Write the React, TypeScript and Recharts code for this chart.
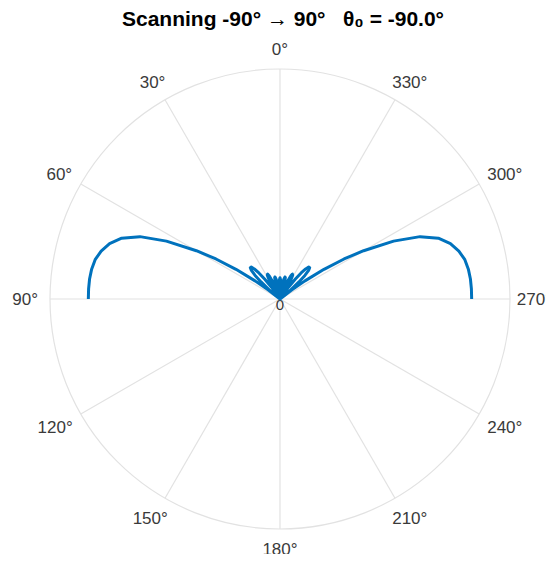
import React from 'react';
import {
  RadarChart, PolarGrid, PolarAngleAxis, PolarRadiusAxis, Radar,
  LineChart, Line, XAxis, YAxis,
} from 'recharts';

// theta ticks listed clockwise from the top (recharts default sweep),
// which puts 30° on the upper left like the original
const angleLabels = ['0°', '330°', '300°', '270°', '240°', '210°', '180°', '150°', '120°', '90°', '60°', '30°'];

// scan angle (deg), -90 (right) .. 90 (left)
const thetaDeg = [
  -90, -87, -84, -81, -78, -75, -72, -69, -66, -63, -60, -58, -56, -54, -52.5, -51.06,
  -49.5, -48, -46.5, -45, -43.5, -42, -40.5, -39, -37.5, -36, -34.8, -33.75,
  -32, -30, -28, -26.5, -25, -23, -21, -19.47,
  -18, -16, -14, -12.8, -11, -9, -7.5, -6.38,
  -5, -3.5, -2, 0, 2, 3.5, 5,
  6.38, 7.5, 9, 11, 12.8, 14, 16, 18,
  19.47, 21, 23, 25, 26.5, 28, 30, 32,
  33.75, 34.8, 36, 37.5, 39, 40.5, 42, 43.5, 45, 46.5, 48, 49.5,
  51.06, 52.5, 54, 56, 58, 60, 63, 66, 69, 72, 75, 78, 81, 84, 87, 90,
];

// normalised array gain
const gain = [
  1.0, 1.0, 0.999, 0.995, 0.986, 0.966, 0.935, 0.885, 0.8, 0.665, 0.504, 0.394, 0.277, 0.161, 0.076, 0,
  0.074, 0.133, 0.179, 0.211, 0.225, 0.224, 0.206, 0.175, 0.132, 0.081, 0.038, 0,
  0.059, 0.111, 0.141, 0.145, 0.134, 0.099, 0.045, 0,
  0.042, 0.089, 0.115, 0.118, 0.105, 0.069, 0.031, 0,
  0.037, 0.073, 0.098, 0.111, 0.098, 0.073, 0.037,
  0, 0.031, 0.069, 0.105, 0.118, 0.115, 0.089, 0.042,
  0, 0.045, 0.099, 0.134, 0.145, 0.141, 0.111, 0.059,
  0, 0.038, 0.081, 0.132, 0.175, 0.206, 0.224, 0.225, 0.211, 0.179, 0.133, 0.074,
  0, 0.076, 0.161, 0.277, 0.394, 0.504, 0.665, 0.8, 0.885, 0.935, 0.966, 0.986, 0.995, 0.999, 1.0, 1.0,
];

const R_LIM = 1.2;

const CX = 272;
const CY = 291;
const OUTER_R = 230;
const LABEL_GAP = 12;
const CHART_W = 546;
const CHART_H = 554;
const GRID = '#e2e2e2';
const TXT = '#3a3a3a';
const FONT = '"Liberation Sans", Arial, Helvetica, sans-serif';

const gridData = angleLabels.map((label) => ({ label, v: 0 }));

const curve = thetaDeg.map((t, i) => {
  const a = (t * Math.PI) / 180;
  return { x: -gain[i] * Math.sin(a), y: gain[i] * Math.cos(a) };
});

// push each label box out so its edge, not its centre, sits at the gap
const AngleTick = (props: any) => {
  const { x, y, payload } = props;
  const fs = 17;
  const s = String(payload.value);
  const w = (s.length - 1) * 0.556 * fs + 0.4 * fs;
  const h = 16;
  const dx = x - CX;
  const dy = y - CY;
  const len = Math.sqrt(dx * dx + dy * dy) || 1;
  const ux = dx / len;
  const uy = dy / len;
  let tx = x + (ux * w) / 2;
  tx = Math.min(tx, CHART_W - 2 - w / 2);
  const ty = y + (uy * h) / 2 + (uy > 0.2 && uy < 0.95 ? 3 : 0);
  return (
    <text x={tx} y={ty} textAnchor="middle" dominantBaseline="central"
      fontSize={fs} fill={TXT} fontFamily={FONT}>
      {s}
    </text>
  );
};

const RadiusTick = (props: any) => {
  const { x, y, payload } = props;
  if (payload.value !== 0) return <g />;
  return (
    <text x={x} y={y + 5} textAnchor="middle" dominantBaseline="central"
      fontSize={15} fill={TXT} fontFamily={FONT}>
      0
    </text>
  );
};

export default function App() {
  return (
    <div style={{ position: 'relative', width: 538, height: CHART_H, marginBottom: -8, background: '#fff' }}>
      <div style={{
        position: 'absolute', left: 6, top: 0, width: 538, textAlign: 'center',
        fontFamily: FONT, fontWeight: 'bold', fontSize: 21, lineHeight: '21px', color: '#000',
        whiteSpace: 'pre',
      }}>
        {'Scanning -90° → 90°   θ₀ = -90.0°'}
      </div>

      <div style={{ position: 'absolute', left: 0, top: 0 }}>
        <RadarChart width={CHART_W} height={CHART_H} data={gridData} cx={CX} cy={CY}
          outerRadius={OUTER_R} margin={{ top: 0, right: 0, bottom: 0, left: 0 }}>
          <PolarGrid gridType="circle" polarRadius={[OUTER_R]} stroke={GRID} strokeWidth={1.2} />
          <PolarAngleAxis dataKey="label" tick={<AngleTick />} tickLine={false}
            axisLine={false} tickSize={LABEL_GAP} />
          <PolarRadiusAxis domain={[0, R_LIM]} angle={90} axisLine={false}
            tickLine={false} tick={<RadiusTick />} tickCount={2} />
          <Radar dataKey="v" stroke="none" fill="none" dot={false} isAnimationActive={false} />
        </RadarChart>
      </div>

      <div style={{ position: 'absolute', left: CX - OUTER_R, top: CY - OUTER_R }}>
        <LineChart width={OUTER_R * 2} height={OUTER_R * 2} data={curve}
          margin={{ top: 0, right: 0, bottom: 0, left: 0 }}>
          <XAxis type="number" dataKey="x" domain={[-R_LIM, R_LIM]} hide allowDataOverflow />
          <YAxis type="number" domain={[-R_LIM, R_LIM]} hide allowDataOverflow />
          <Line type="linear" dataKey="y" stroke="#0072BD" strokeWidth={3} dot={false}
            strokeLinejoin="round" isAnimationActive={false} />
        </LineChart>
      </div>
    </div>
  );
}
